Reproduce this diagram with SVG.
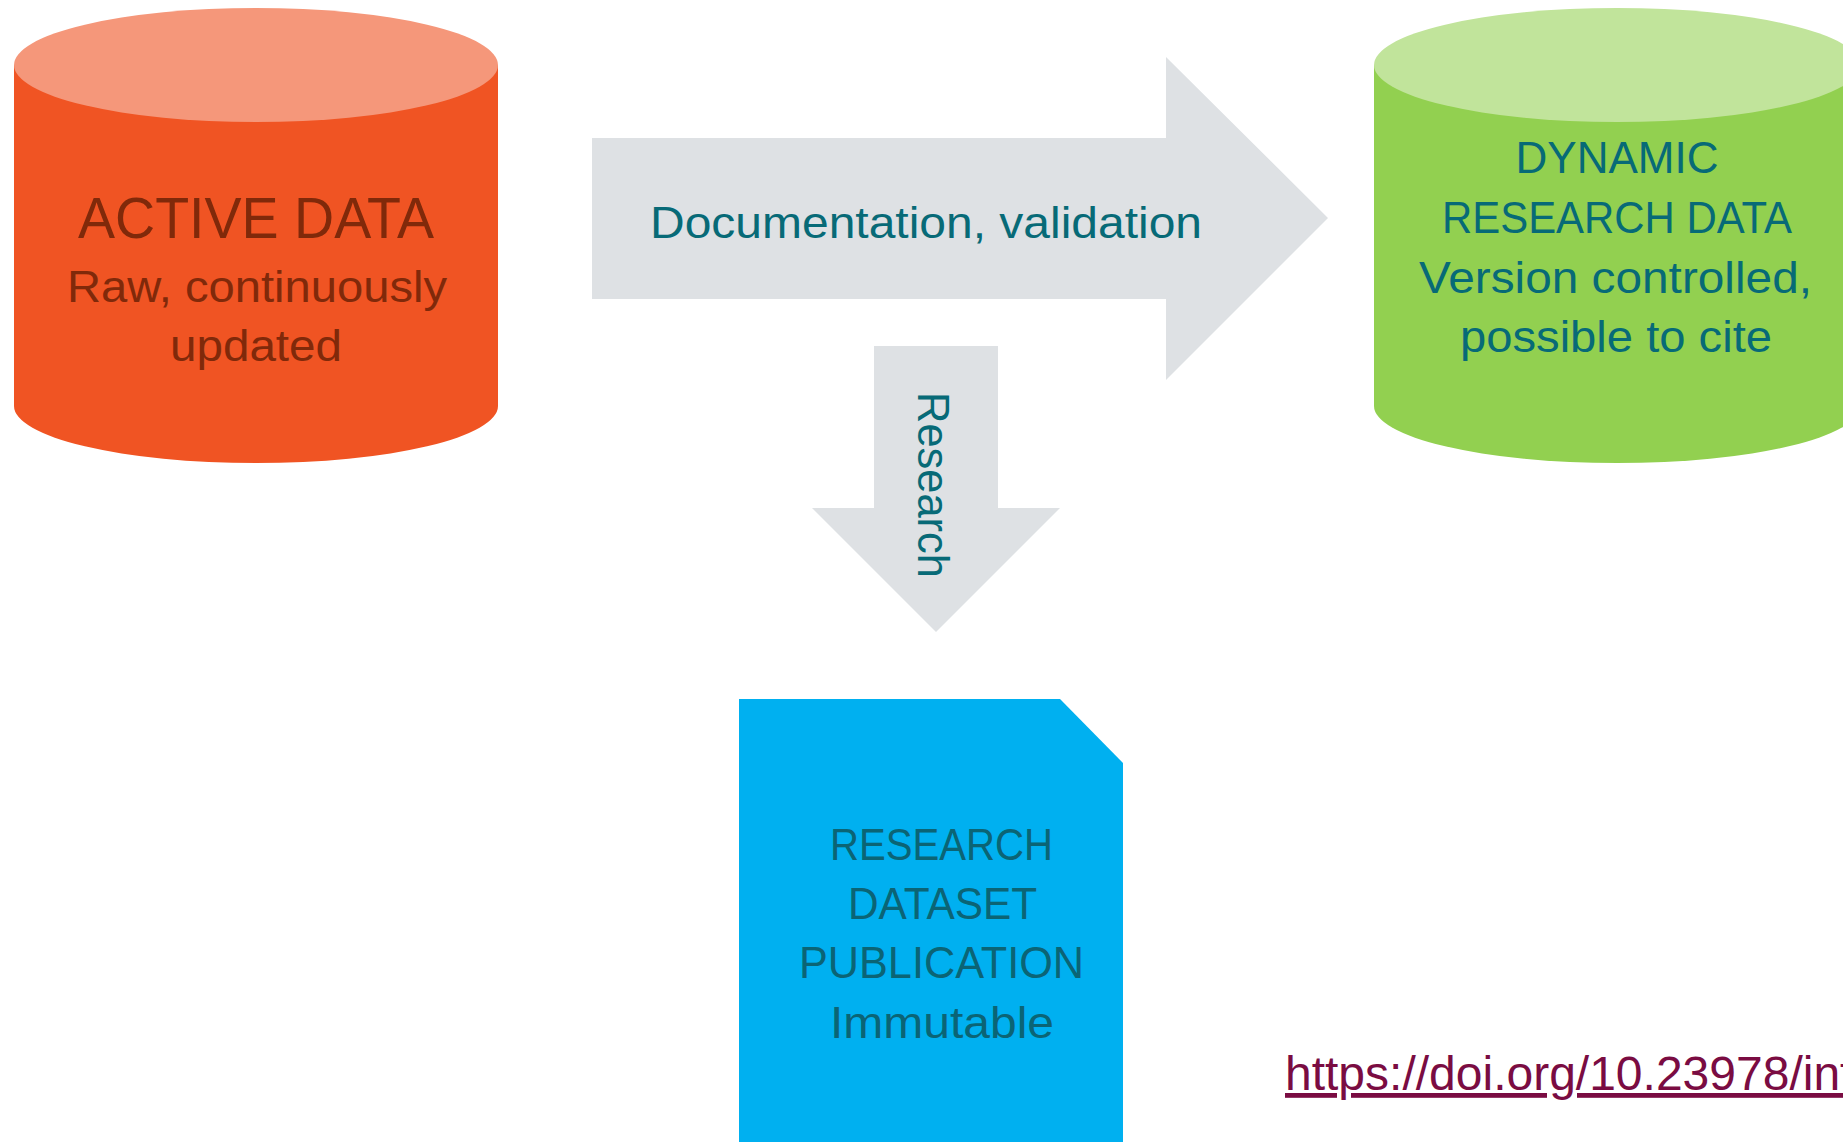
<svg xmlns="http://www.w3.org/2000/svg" width="1843" height="1142" viewBox="0 0 1843 1142">
  <style>
    text { font-family: "Liberation Sans", Arial, sans-serif; text-anchor: middle; }
    .t-orange { fill: #80290A; font-size: 45px; }
    .t-title { font-size: 57px; }
    .t-teal { fill: #076A77; font-size: 45px; }
    .t-blue { fill: #0B6475; font-size: 45px; }
    .arrow { fill: #DEE1E4; }
    .url { fill: #7A0C42; font-size: 48px; text-anchor: start; text-decoration: underline; }
  </style>
  <rect width="1843" height="1142" fill="#FFFFFF"/>

  <g id="connectors">
    <g id="arrow-documentation">
      <path class="arrow" d="M592,138 L1166,138 L1166,57 L1328,218 L1166,380 L1166,299 L592,299 Z"/>
      <text class="t-teal" x="926" y="238" font-size="46" textLength="552" lengthAdjust="spacingAndGlyphs">Documentation, validation</text>
    </g>
    <g id="arrow-research">
      <path class="arrow" d="M874,346 L998,346 L998,508 L1060,508 L936,632 L812,508 L874,508 Z"/>
      <text class="t-teal" transform="translate(918,485) rotate(90)" font-size="47" textLength="186" lengthAdjust="spacingAndGlyphs">Research</text>
    </g>
  </g>

  <g id="node-active-data">
    <path d="M14,65 L14,406 A242,57 0 0 0 498,406 L498,65 Z" fill="#F05423"/>
    <ellipse cx="256" cy="65" rx="242" ry="57" fill="#F5977A"/>
    <text class="t-orange t-title" x="256" y="238" textLength="356" lengthAdjust="spacingAndGlyphs">ACTIVE DATA</text>
    <text class="t-orange" x="257" y="302" textLength="380" lengthAdjust="spacingAndGlyphs">Raw, continuously</text>
    <text class="t-orange" x="256" y="361" textLength="172" lengthAdjust="spacingAndGlyphs">updated</text>
  </g>

  <g id="node-dynamic-research-data">
    <path d="M1374,65 L1374,406 A243,57 0 0 0 1860,406 L1860,65 Z" fill="#92D050"/>
    <ellipse cx="1617" cy="65" rx="243" ry="57" fill="#C1E49B"/>
    <text class="t-teal" x="1617" y="173" textLength="203" lengthAdjust="spacingAndGlyphs">DYNAMIC</text>
    <text class="t-teal" x="1617" y="233" textLength="350" lengthAdjust="spacingAndGlyphs">RESEARCH DATA</text>
    <text class="t-teal" x="1615.5" y="293" textLength="393" lengthAdjust="spacingAndGlyphs">Version controlled,</text>
    <text class="t-teal" x="1616" y="352" textLength="312" lengthAdjust="spacingAndGlyphs">possible to cite</text>
  </g>

  <g id="node-research-dataset-publication">
    <path d="M739,699 L1060,699 L1123,763 L1123,1142 L739,1142 Z" fill="#00B0F0"/>
    <text class="t-blue" x="941.5" y="860" textLength="223" lengthAdjust="spacingAndGlyphs">RESEARCH</text>
    <text class="t-blue" x="942.5" y="919" textLength="189" lengthAdjust="spacingAndGlyphs">DATASET</text>
    <text class="t-blue" x="941.5" y="978" textLength="285" lengthAdjust="spacingAndGlyphs">PUBLICATION</text>
    <text class="t-blue" x="942" y="1038" textLength="224" lengthAdjust="spacingAndGlyphs">Immutable</text>
  </g>

  <g id="link">
    <text class="url" x="1285" y="1090">https://doi.org/10.23978/inf</text>
  </g>
</svg>
